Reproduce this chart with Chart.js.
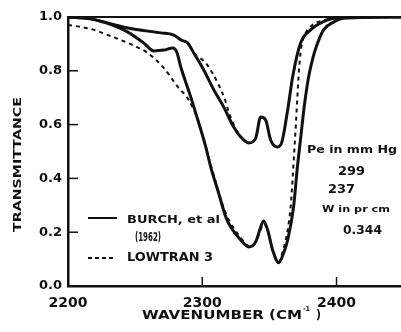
<!DOCTYPE html>
<html>
<head>
<meta charset="utf-8">
<script src="https://cdn.jsdelivr.net/npm/chart.js@4/dist/chart.umd.min.js"></script>
<style>
  html, body { margin: 0; padding: 0; background: #fff; overflow: hidden; }
  canvas { display: block; }
</style>
</head>
<body>
<canvas id="myChart" width="401" height="332"></canvas>
<script>
// axis ticks
var wavenumberTicks = [2200, 2300, 2400];
var transmittanceTicks = [0, 0.2, 0.4, 0.6, 0.8, 1.0];

// Burch et al. (1962), lower pressure run
var burchUpperWn = [2200, 2217, 2226.8, 2244.6, 2269.1, 2278.8, 2284, 2289.2, 2293.7, 2301.1, 2308.6, 2316, 2323.4, 2328.6, 2334.6, 2339.8, 2343.5, 2347.2, 2350.9, 2356.1, 2359.1, 2363.6, 2367.3, 2373.2, 2380.7, 2393.3, 2400.7, 2448];
var burchUpperT = [1.0, 0.993, 0.981, 0.959, 0.941, 0.933, 0.915, 0.903, 0.866, 0.803, 0.729, 0.665, 0.591, 0.554, 0.532, 0.55, 0.628, 0.617, 0.543, 0.517, 0.532, 0.654, 0.777, 0.903, 0.952, 0.989, 0.996, 1.0];

// Burch et al. (1962), higher pressure run
var burchLowerWn = [2200, 2217, 2226.8, 2244.6, 2256.5, 2263.9, 2271.4, 2278.1, 2281, 2284, 2291.4, 2296.7, 2302.6, 2306.3, 2311.5, 2317.5, 2321.2, 2328.6, 2334.6, 2339.8, 2343.5, 2345.7, 2348.7, 2352.4, 2356.9, 2360.6, 2363.6, 2368, 2370.8, 2373.5, 2376, 2379.2, 2382.5, 2385.9, 2390.3, 2397.8, 2406.7, 2448];
var burchLowerT = [1.0, 0.993, 0.981, 0.944, 0.903, 0.874, 0.877, 0.885, 0.87, 0.814, 0.703, 0.617, 0.517, 0.442, 0.357, 0.257, 0.219, 0.171, 0.145, 0.164, 0.219, 0.242, 0.208, 0.134, 0.086, 0.123, 0.171, 0.294, 0.44, 0.56, 0.67, 0.777, 0.85, 0.903, 0.952, 0.981, 0.996, 1.0];

// LOWTRAN 3, lower pressure
var lowtranUpperWn = [2200, 2217, 2226.8, 2244.6, 2269.1, 2278.8, 2284, 2289.2, 2293.7, 2302.6, 2312.3, 2317.5, 2319.7, 2323.4, 2328.6, 2334.6, 2339.8, 2343.5, 2347.2, 2350.9, 2356.1, 2359.1, 2363.6, 2367.3, 2373.2, 2380.7, 2393.3, 2400.7, 2448];
var lowtranUpperT = [1.0, 0.993, 0.981, 0.959, 0.941, 0.933, 0.915, 0.903, 0.866, 0.829, 0.747, 0.684, 0.647, 0.6, 0.556, 0.532, 0.55, 0.628, 0.617, 0.543, 0.517, 0.532, 0.654, 0.777, 0.903, 0.952, 0.989, 0.996, 1.0];

// LOWTRAN 3, higher pressure
var lowtranLowerWn = [2200, 2209.7, 2219.3, 2229.7, 2239.4, 2249.8, 2259.5, 2271.4, 2281.8, 2290, 2296.7, 2306.3, 2317.5, 2328.6, 2334.6, 2340, 2343.5, 2346, 2349, 2352.4, 2356.9, 2360, 2363.6, 2365.8, 2367.3, 2368.5, 2369.7, 2370.8, 2372, 2373.5, 2376, 2382, 2392, 2400, 2448];
var lowtranLowerT = [0.97, 0.963, 0.952, 0.933, 0.914, 0.892, 0.866, 0.81, 0.74, 0.691, 0.617, 0.45, 0.27, 0.18, 0.15, 0.165, 0.21, 0.23, 0.2, 0.13, 0.09, 0.13, 0.208, 0.294, 0.4, 0.5, 0.6, 0.7, 0.8, 0.88, 0.93, 0.97, 0.99, 1.0, 1.0];

function toPoints(xs, ys) {
  return xs.map(function(x, i) { return { x: x, y: ys[i] }; });
}

var FONT = '"DejaVu Sans", "Liberation Sans", sans-serif';

// draws bold text squeezed or stretched between x0 and x1
function fitText(ctx, str, x0, x1, cy, size) {
  ctx.save();
  ctx.font = 'bold ' + size + 'px ' + FONT;
  ctx.textBaseline = 'middle';
  ctx.textAlign = 'left';
  var w = ctx.measureText(str).width;
  ctx.translate(x0, cy);
  ctx.scale((x1 - x0) / w, 1);
  ctx.fillText(str, 0, 0);
  ctx.restore();
}

var frameAndText = {
  id: 'frameAndText',
  afterDraw: function(chart) {
    var ctx = chart.ctx;
    var area = chart.chartArea;
    var xs = chart.scales.x, ys = chart.scales.y;
    ctx.save();
    ctx.strokeStyle = '#111';
    ctx.fillStyle = '#111';

    // top frame line
    ctx.lineWidth = 2;
    ctx.beginPath();
    ctx.moveTo(area.left, area.top);
    ctx.lineTo(area.right, area.top);
    ctx.stroke();

    // inward tick marks
    ctx.lineWidth = 1.5;
    ys.ticks.forEach(function(t) {
      var py = ys.getPixelForValue(t.value);
      ctx.beginPath();
      ctx.moveTo(area.left, py);
      ctx.lineTo(area.left + 10, py);
      ctx.stroke();
    });
    xs.ticks.forEach(function(t) {
      var px = xs.getPixelForValue(t.value);
      ctx.beginPath();
      ctx.moveTo(px, area.bottom);
      ctx.lineTo(px, area.bottom - 9);
      ctx.stroke();
    });

    // axis titles
    ctx.save();
    ctx.translate(18, 232);
    ctx.rotate(-Math.PI / 2);
    fitText(ctx, 'TRANSMITTANCE', 0, 135, 0, 11);
    ctx.restore();

    fitText(ctx, 'WAVENUMBER (CM', 142, 302, 316, 12);
    fitText(ctx, '-1', 303, 310, 309, 7);
    fitText(ctx, ')', 316, 321, 316, 12);

    // legend
    ctx.lineWidth = 2;
    ctx.beginPath();
    ctx.moveTo(88, 218);
    ctx.lineTo(117, 218);
    ctx.stroke();
    ctx.setLineDash([4, 3]);
    ctx.beginPath();
    ctx.moveTo(88, 258);
    ctx.lineTo(116, 258);
    ctx.stroke();
    ctx.setLineDash([]);
    fitText(ctx, 'BURCH, et al', 127, 220, 220, 11);
    fitText(ctx, '(1962)', 135, 161, 238, 12);
    fitText(ctx, 'LOWTRAN 3', 127, 213, 258, 12);

    // conditions
    fitText(ctx, 'Pe in mm Hg', 307, 397, 150, 10);
    fitText(ctx, '299', 338, 365, 172, 12);
    fitText(ctx, '237', 328, 355, 190, 12);
    fitText(ctx, 'W in pr cm', 322, 390, 210, 8);
    fitText(ctx, '0.344', 343, 382, 231, 12);
    ctx.restore();
  }
};

var lineStyle = {
  borderColor: '#111',
  pointRadius: 0,
  cubicInterpolationMode: 'monotone',
  fill: false
};

var ctx = document.getElementById('myChart');
var myChart = new Chart(ctx, {
  type: 'line',
  data: {
    datasets: [
      Object.assign({ label: 'Burch upper', data: toPoints(burchUpperWn, burchUpperT), borderWidth: 3 }, lineStyle),
      Object.assign({ label: 'Burch lower', data: toPoints(burchLowerWn, burchLowerT), borderWidth: 3 }, lineStyle),
      Object.assign({ label: 'LOWTRAN upper', data: toPoints(lowtranUpperWn, lowtranUpperT), borderWidth: 2, borderDash: [4, 4] }, lineStyle),
      Object.assign({ label: 'LOWTRAN lower', data: toPoints(lowtranLowerWn, lowtranLowerT), borderWidth: 2, borderDash: [4, 4] }, lineStyle)
    ]
  },
  options: {
    responsive: false,
    animation: false,
    layout: { padding: { top: 17, right: 0, left: 0, bottom: 0 } },
    plugins: {
      legend: { display: false },
      tooltip: { enabled: false }
    },
    scales: {
      x: {
        type: 'linear',
        min: 2200,
        max: 2448,
        afterBuildTicks: function(scale) {
          scale.ticks = wavenumberTicks.map(function(v) { return { value: v }; });
        },
        afterFit: function(scale) { scale.height = 46; },
        grid: { display: false, drawTicks: false },
        border: { display: true, color: '#111', width: 2.5 },
        ticks: {
          color: '#111',
          padding: 9,
          maxRotation: 0,
          font: { family: FONT, size: 14, weight: 'bold' },
          callback: function(v) { return String(v); }
        }
      },
      y: {
        min: 0,
        max: 1,
        afterBuildTicks: function(scale) {
          scale.ticks = transmittanceTicks.map(function(v) { return { value: v }; });
        },
        afterFit: function(scale) { scale.width = 68; },
        grid: { display: false, drawTicks: false },
        border: { display: true, color: '#111', width: 2.5 },
        ticks: {
          color: '#111',
          padding: 6,
          font: { family: FONT, size: 13, weight: 'bold' },
          callback: function(v) { return v.toFixed(1); }
        }
      }
    }
  },
  plugins: [frameAndText]
});
</script>
</body>
</html>
